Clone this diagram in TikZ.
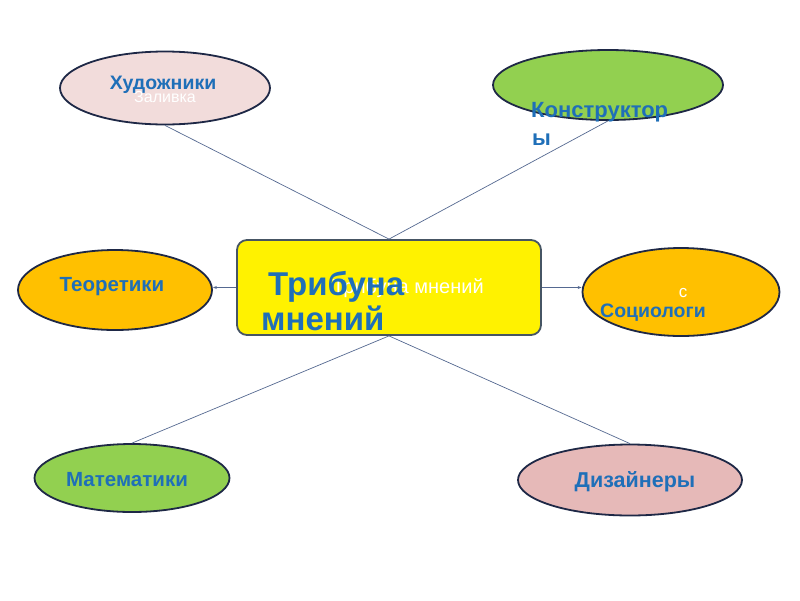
\documentclass[tikz,border=0pt]{standalone}
\usepackage{fontspec}
\setmainfont{Liberation Sans}
\usetikzlibrary{shapes.geometric,arrows.meta}
\definecolor{txtblue}{RGB}{31,111,184}
\definecolor{linec}{RGB}{85,105,145}
\definecolor{edgec}{RGB}{30,40,70}
\definecolor{pinkA}{RGB}{242,220,219}
\definecolor{pinkB}{RGB}{230,185,184}
\definecolor{greenA}{RGB}{146,208,80}
\definecolor{orangeA}{RGB}{255,192,0}
\definecolor{rectedge}{RGB}{70,85,100}
\tikzset{
  oval/.style={ellipse, draw=edgec, line width=1.8pt, inner sep=0pt},
  lbl/.style={text=txtblue, font=\fontsize{19.5}{22}\selectfont\bfseries, inner sep=0pt},
  ghost/.style={text=white, inner sep=0pt},
  conn/.style={draw=linec, line width=0.7pt},
  arr/.style={conn, -{Stealth[length=4pt,width=3pt]}}
}
\begin{document}
\begin{tikzpicture}[x=1pt,y=-1pt]
\useasboundingbox (0,0) rectangle (800,600);
\fill[white] (0,0) rectangle (800,600);
% ellipses
\node[oval, fill=pinkA, minimum width=210, minimum height=73] (hud) at (165,88) {};
\node[oval, fill=greenA, minimum width=230, minimum height=70] (kon) at (608,85) {};
\node[oval, fill=orangeA, minimum width=194, minimum height=80] (teo) at (115,290) {};
\node[oval, fill=orangeA, minimum width=197, minimum height=88] (soc) at (681,292) {};
\node[oval, fill=greenA, minimum width=195, minimum height=68] (mat) at (132,478) {};
\node[oval, fill=pinkB, minimum width=224, minimum height=71] (diz) at (630,480) {};
% centre box
\node[draw=rectedge, line width=1.8pt, fill=yellow, rounded corners=10pt,
      minimum width=304, minimum height=95, inner sep=0pt] (trib) at (389,287.5) {};
% connectors
\draw[conn] (hud.south) -- (trib.north);
\draw[conn] (kon.south) -- (trib.north);
\draw[conn] (trib.south) -- (mat.north);
\draw[conn] (trib.south) -- (diz.north);
\draw[arr] (trib.west) -- (trib.west -| teo.east);
\draw[arr] (trib.east) -- (trib.east -| soc.west);
% ghost texts
\node[ghost, font=\fontsize{16}{18}\selectfont] (g1) at (165,97) {Заливка};
\node[ghost, font=\fontsize{20}{22}\selectfont] (g2) at (408,288) {Трибуна мнений};
\node[ghost, font=\fontsize{17}{18}\selectfont] (g3) at (683,293) {с};
% labels
\node[lbl] (thud) at (163,85) {Художники};
\node[lbl, anchor=base west, font=\fontsize{22}{24}\selectfont\bfseries] (tkon1) at (531,117) {Конструктор};
\node[lbl, anchor=base west, font=\fontsize{22}{24}\selectfont\bfseries] (tkon2) at (532,145) {ы};
\node[lbl, font=\fontsize{20.5}{22}\selectfont\bfseries] (tteo) at (112,287) {Теоретики};
\node[lbl, anchor=base west] (tsoc) at (600,317) {Социологи};
\node[lbl, font=\fontsize{20.5}{22}\selectfont\bfseries] (tmat) at (127,480) {Математики};
\node[lbl, font=\fontsize{21.5}{22}\selectfont\bfseries] (tdiz) at (635,482) {Дизайнеры};
\node[lbl, anchor=base west, font=\fontsize{33}{35}\selectfont\bfseries] (tt1) at (268,295) {Трибуна};
\node[lbl, anchor=base west, font=\fontsize{33}{35}\selectfont\bfseries] (tt2) at (261,330) {мнений};
\end{tikzpicture}
\end{document}
